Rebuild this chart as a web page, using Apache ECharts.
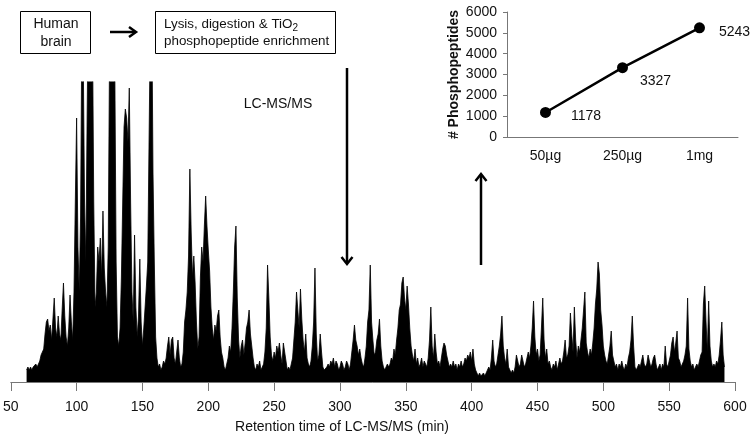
<!DOCTYPE html>
<html>
<head>
<meta charset="utf-8">
<script src="https://cdn.jsdelivr.net/npm/echarts@6/dist/echarts.min.js"></script>
<style>
  html, body { margin: 0; padding: 0; background: #fff; }
  #chart { width: 750px; height: 438px; }
</style>
</head>
<body>
<div id="chart"></div>
<script>
// chromatogram: relative intensity (100 = top of plot) read per minute, from 62 min on
var chromStart = 62;
var chromValues = [
  4,5,4,5,4,5,5,6,
  5,6,7,9,10,11,16,20,21,17,
  19,14,14,28,18,15,22,16,14,24,
  33,22,15,12,18,29,20,14,30,60,
  88,45,30,55,120,110,60,40,90,130,
  140,130,120,60,25,30,45,40,48,35,
  57,38,30,25,45,110,140,130,120,105,
  40,15,12,18,35,60,85,91,88,80,
  98,60,30,20,49,25,15,22,41,20,
  12,18,25,32,40,80,120,130,70,40,
  15,8,5,6,4,5,7,6,8,12,
  15,9,14,15,8,6,10,14,8,5,
  6,10,20,24,30,42,71,50,35,42,
  33,20,11,15,35,45,40,52,62,52,
  44,37,25,18,14,19,17,22,24,15,
  10,8,5,4,6,8,12,10,18,30,
  45,52,28,14,8,12,14,9,13,18,
  20,24,16,12,8,5,4,6,5,7,
  4,5,6,10,18,39,28,15,9,7,
  10,8,12,10,13,9,6,13,10,7,
  4,5,4,6,8,14,20,30,24,18,
  31,21,14,10,16,8,6,5,7,12,
  20,38,16,7,9,16,10,5,4,4,
  5,6,5,7,6,8,5,7,6,4,
  5,7,6,4,5,7,6,4,6,10,
  14,19,14,12,9,11,8,6,5,8,
  12,20,24,39,20,14,9,10,14,16,
  21,12,7,5,4,5,6,5,6,8,
  7,11,9,14,18,24,26,33,35,28,
  24,32,26,18,12,9,7,11,6,8,
  5,6,8,5,7,6,5,8,14,25,
  12,8,16,10,6,7,5,8,11,13,
  12,9,7,5,6,5,7,5,6,4,
  6,5,7,5,6,8,7,9,8,10,
  7,11,6,4,3,2,3,2,2,3,
  2,3,4,5,4,8,14,7,5,6,
  9,12,16,22,12,8,6,11,5,4,
  3,4,3,5,9,7,5,6,9,7,
  5,6,8,10,8,12,18,27,15,9,
  11,7,9,18,28,14,8,11,6,7,
  5,4,6,5,7,4,6,8,6,7,
  10,14,8,9,12,23,16,10,25,14,
  8,12,10,14,18,24,30,13,10,8,
  11,9,13,18,26,31,40,36,24,19,
  12,9,7,6,9,12,17,9,7,5,
  6,4,6,5,7,5,4,6,5,8,
  10,14,22,12,5,4,5,6,5,7,
  9,6,5,6,9,7,5,6,8,9,
  6,4,5,6,4,6,5,12,6,5,
  7,9,13,15,10,13,17,8,7,5,
  6,7,9,12,28,11,7,5,6,4,
  5,6,5,7,9,10,26,32,20,10,
  27,12,7,5,6,5,7,6,9,14,
  20,9,5
];

// inset: phosphopeptides identified vs. amount of starting material
var amounts = ['50µg', '250µg', '1mg'];
var phosphoCounts = [1178, 3327, 5243];

var chromData = [];
for (var i = 0; i < chromValues.length; i++) {
  chromData.push([chromStart + i, chromValues[i]]);
}

// where each count label sits relative to its point
var labelShift = [[14, 4], [6, 13], [8, 4]];
var insetData = phosphoCounts.map(function (v, i) {
  return {
    value: v,
    label: { offset: labelShift[i] }
  };
});

var font = '"Liberation Sans", Arial, sans-serif';
var chart = echarts.init(document.getElementById('chart'));

var option = {
  animation: false,
  backgroundColor: '#fff',
  textStyle: { fontFamily: font },
  grid: [
    { left: 10, right: 15, top: 82, bottom: 56 },
    { left: 507, right: 12, top: 12, bottom: 301 }
  ],
  xAxis: [
    {
      gridIndex: 0,
      type: 'value',
      min: 50,
      max: 600,
      interval: 50,
      axisLine: { lineStyle: { color: '#777', width: 1 } },
      axisTick: { show: true, length: 9, lineStyle: { color: '#777' } },
      axisLabel: { color: '#111', fontSize: 14, margin: 18, fontFamily: font },
      splitLine: { show: false }
    },
    {
      gridIndex: 1,
      type: 'category',
      data: amounts,
      boundaryGap: true,
      axisLine: { lineStyle: { color: '#777', width: 1 } },
      axisTick: { show: false },
      axisLabel: { color: '#111', fontSize: 14, margin: 12, fontFamily: font }
    }
  ],
  yAxis: [
    {
      gridIndex: 0,
      type: 'value',
      min: 0,
      max: 100,
      show: false
    },
    {
      gridIndex: 1,
      type: 'value',
      min: 0,
      max: 6000,
      interval: 1000,
      name: '# Phosphopeptides',
      nameLocation: 'middle',
      nameGap: 46,
      nameTextStyle: { color: '#111', fontSize: 14, fontWeight: 'bold', fontFamily: font },
      axisLine: { show: true, lineStyle: { color: '#777', width: 1 } },
      axisTick: { show: true, length: 4, lineStyle: { color: '#777' } },
      axisLabel: {
        color: '#111', fontSize: 14, margin: 10, fontFamily: font,
        formatter: function (v) { return String(v); }
      },
      splitLine: { show: false }
    }
  ],
  series: [
    {
      name: 'LC-MS/MS',
      type: 'line',
      xAxisIndex: 0,
      yAxisIndex: 0,
      data: chromData,
      symbol: 'none',
      sampling: 'none',
      clip: true,
      lineStyle: { color: '#000', width: 0.8 },
      areaStyle: { color: '#000', opacity: 1 }
    },
    {
      name: 'Phosphopeptides',
      type: 'line',
      xAxisIndex: 1,
      yAxisIndex: 1,
      data: insetData,
      symbol: 'circle',
      symbolSize: 11,
      itemStyle: { color: '#000' },
      lineStyle: { color: '#000', width: 2.5 },
      label: {
        show: true,
        position: 'right',
        distance: 6,
        color: '#111',
        fontSize: 14,
        fontFamily: font
      }
    }
  ],
  graphic: [
    // Human brain box
    { type: 'rect', shape: { x: 20.5, y: 11.5, width: 70, height: 42 },
      style: { fill: '#fff', stroke: '#000', lineWidth: 1 } },
    { type: 'text', x: 56, y: 33,
      style: { text: 'Human\nbrain', font: '14px ' + font, fill: '#111',
               textAlign: 'center', textVerticalAlign: 'middle', lineHeight: 18 } },
    // right arrow
    { type: 'line', shape: { x1: 110, y1: 32, x2: 135, y2: 32 },
      style: { stroke: '#000', lineWidth: 2.5 } },
    { type: 'polyline', shape: { points: [[129, 27], [136, 32], [129, 37]] },
      style: { stroke: '#000', lineWidth: 2.5, fill: null } },
    // enrichment box
    { type: 'rect', shape: { x: 155.5, y: 11.5, width: 180, height: 42 },
      style: { fill: '#fff', stroke: '#000', lineWidth: 1 } },
    { type: 'text', x: 164, y: 33,
      style: {
        text: 'Lysis, digestion & TiO{sub|2}\nphosphopeptide enrichment',
        font: '13.4px ' + font, fill: '#111',
        textAlign: 'left', textVerticalAlign: 'middle', lineHeight: 17,
        rich: { sub: { fontSize: 10, fontFamily: font, fill: '#111', verticalAlign: 'bottom', lineHeight: 13 } }
      } },
    // down arrow
    { type: 'line', shape: { x1: 347, y1: 68, x2: 347, y2: 263 },
      style: { stroke: '#000', lineWidth: 2.5 } },
    { type: 'polyline', shape: { points: [[341.5, 257], [347, 264], [352.5, 257]] },
      style: { stroke: '#000', lineWidth: 2.5, fill: null } },
    { type: 'text', x: 278, y: 104,
      style: { text: 'LC-MS/MS', font: '14px ' + font, fill: '#111',
               textAlign: 'center', textVerticalAlign: 'middle' } },
    // up arrow
    { type: 'line', shape: { x1: 481, y1: 265, x2: 481, y2: 175 },
      style: { stroke: '#000', lineWidth: 2.5 } },
    { type: 'polyline', shape: { points: [[475.5, 181], [481, 174], [486.5, 181]] },
      style: { stroke: '#000', lineWidth: 2.5, fill: null } },
    // x axis title
    { type: 'text', x: 342, y: 427,
      style: { text: 'Retention time of LC-MS/MS (min)', font: '14px ' + font, fill: '#111',
               textAlign: 'center', textVerticalAlign: 'middle' } }
  ]
};

chart.setOption(option);
</script>
</body>
</html>
